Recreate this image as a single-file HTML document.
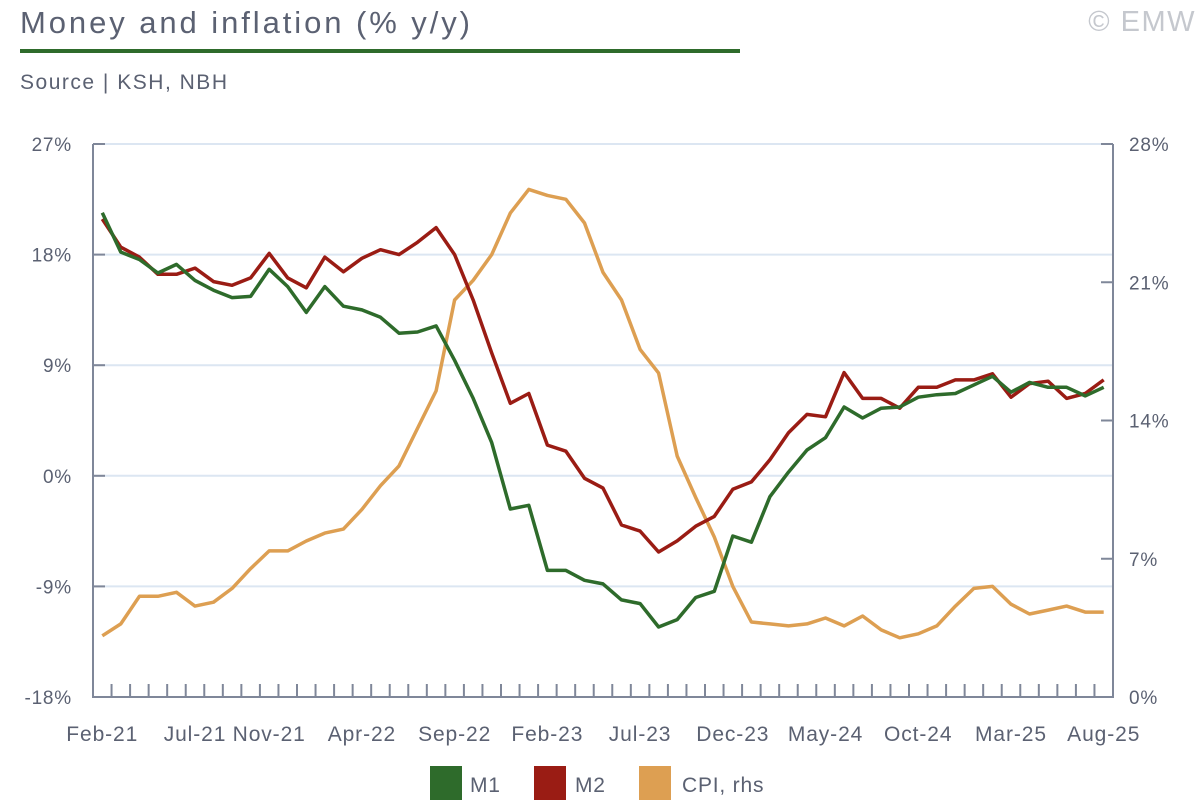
<!DOCTYPE html>
<html><head><meta charset="utf-8"><style>
body{margin:0;background:#fff;}
svg text{font-family:"Liberation Sans",sans-serif;fill:#5b6172;}
</style></head><body>
<svg id="c" width="1200" height="800" xmlns="http://www.w3.org/2000/svg">
<text x="20" y="33" font-size="31" textLength="450" lengthAdjust="spacing">Money and inflation (% y/y)</text>
<rect x="20" y="49" width="720" height="4" fill="#2e6b2b"/>
<text x="20" y="89" font-size="21" textLength="207" lengthAdjust="spacing">Source | KSH, NBH</text>
<text x="1196" y="31" font-size="29" text-anchor="end" letter-spacing="1.5" style="fill:#c5c8ce">© EMW</text>
<g id="grid"></g><g id="axes"></g><g id="series"></g>
<g letter-spacing="0.8">
<rect x="430" y="766" width="32" height="34" fill="#2e6b2b"/>
<text x="470" y="792" font-size="21">M1</text>
<rect x="534" y="766" width="32" height="34" fill="#9a1c14"/>
<text x="575" y="792" font-size="21">M2</text>
<rect x="639" y="766" width="32" height="34" fill="#dd9f52"/>
<text x="682" y="792" font-size="21">CPI, rhs</text>
</g>
</svg>
<script>
const categories=[];
const monthNames=["Jan","Feb","Mar","Apr","May","Jun","Jul","Aug","Sep","Oct","Nov","Dec"];
for(let i=0;i<55;i++){const m=(1+i)%12,y=21+Math.floor((1+i)/12);categories.push(monthNames[m]+"-"+y);}
const m1=[21.4,18.2,17.6,16.5,17.2,15.9,15.1,14.5,14.6,16.8,15.4,13.3,15.4,13.8,13.5,12.9,11.6,11.7,12.2,9.4,6.3,2.7,-2.7,-2.4,-7.7,-7.7,-8.5,-8.8,-10.1,-10.4,-12.3,-11.7,-9.9,-9.4,-4.9,-5.4,-1.7,0.3,2.1,3.1,5.6,4.7,5.5,5.6,6.4,6.6,6.7,7.4,8.1,6.8,7.6,7.2,7.2,6.5,7.2];
const m2=[20.9,18.6,17.8,16.4,16.4,16.9,15.8,15.5,16.1,18.1,16.1,15.3,17.8,16.6,17.7,18.4,18.0,19.0,20.2,18.0,14.3,10.0,5.9,6.7,2.5,2.0,-0.2,-1.0,-4.0,-4.5,-6.2,-5.3,-4.1,-3.3,-1.1,-0.5,1.3,3.5,5.0,4.8,8.4,6.3,6.3,5.5,7.2,7.2,7.8,7.8,8.3,6.4,7.5,7.7,6.3,6.7,7.8];
const cpi=[3.1,3.7,5.1,5.1,5.3,4.6,4.8,5.5,6.5,7.4,7.4,7.9,8.3,8.5,9.5,10.7,11.7,13.6,15.5,20.1,21.1,22.4,24.5,25.7,25.4,25.2,24.0,21.5,20.1,17.6,16.4,12.2,10.1,8.1,5.6,3.8,3.7,3.6,3.7,4.0,3.6,4.1,3.4,3.0,3.2,3.6,4.6,5.5,5.6,4.7,4.2,4.4,4.6,4.3,4.3];
const leftTicks=[-18,-9,0,9,18,27];
const rightTicks=[0,7,14,21,28];
const labelIdx=[0,5,9,14,19,24,29,34,39,44,49,54];
const X0=93,X1=1113,Y0=697,Y1=144;
const bw=(X1-X0)/categories.length;
const xs=i=>X0+bw*(i+0.5);
const yl=v=>Y0-(v+18)/45*(Y0-Y1);
const yr=v=>Y0-v/28*(Y0-Y1);
const NS="http://www.w3.org/2000/svg";
function mk(t,a,p){const e=document.createElementNS(NS,t);for(const k in a)e.setAttribute(k,a[k]);p.appendChild(e);return e;}
const grid=document.getElementById('grid'),axes=document.getElementById('axes'),ser=document.getElementById('series');
leftTicks.forEach(v=>{const y=yl(v);
 if(v!==-18){const g=mk('line',{x1:X0,x2:X1,y1:y,y2:y,stroke:'#dce6f2','stroke-width':2},grid);
 
 }
 const t=mk('line',{x1:X0,x2:X0+12,y1:y,y2:y,stroke:'#7f8799','stroke-width':2},axes);
 
 
 const l=mk('text',{x:72,y:y+7,'font-size':19,'text-anchor':'end','letter-spacing':0.8},axes);l.textContent=v+'%';
 
 });
rightTicks.forEach(v=>{const y=yr(v);
 const t=mk('line',{x1:X1-12,x2:X1,y1:y,y2:y,stroke:'#7f8799','stroke-width':2},axes);
 
 
 const l=mk('text',{x:1129,y:y+7,'font-size':19,'letter-spacing':0.8},axes);l.textContent=v+'%';
 
 });
let a=mk('path',{d:`M${X0} ${Y1}V${Y0}H${X1}V${Y1}`,fill:'none',stroke:'#7f8799','stroke-width':2},axes);


for(let k=1;k<categories.length;k++){const x=X0+bw*k;
 const t=mk('line',{x1:x,x2:x,y1:Y0-13,y2:Y0,stroke:'#7f8799','stroke-width':2},axes);
 
 }
labelIdx.forEach(i=>{const l=mk('text',{x:xs(i),y:741,'font-size':21,'text-anchor':'middle','letter-spacing':0.9},axes);l.textContent=categories[i];
 
 });
function line(vals,sc,col,name){const d=vals.map((v,i)=>(i?'L':'M')+xs(i).toFixed(1)+' '+sc(v).toFixed(1)).join('');
 const p=mk('path',{d:d,fill:'none',stroke:col,'stroke-width':3.5,'stroke-linejoin':'round'},ser);
 
 }
line(cpi,yr,'#dd9f52','cpi-line');
line(m2,yl,'#9a1c14','m2-line');
line(m1,yl,'#2e6b2b','m1-line');
</script>
</body></html>
